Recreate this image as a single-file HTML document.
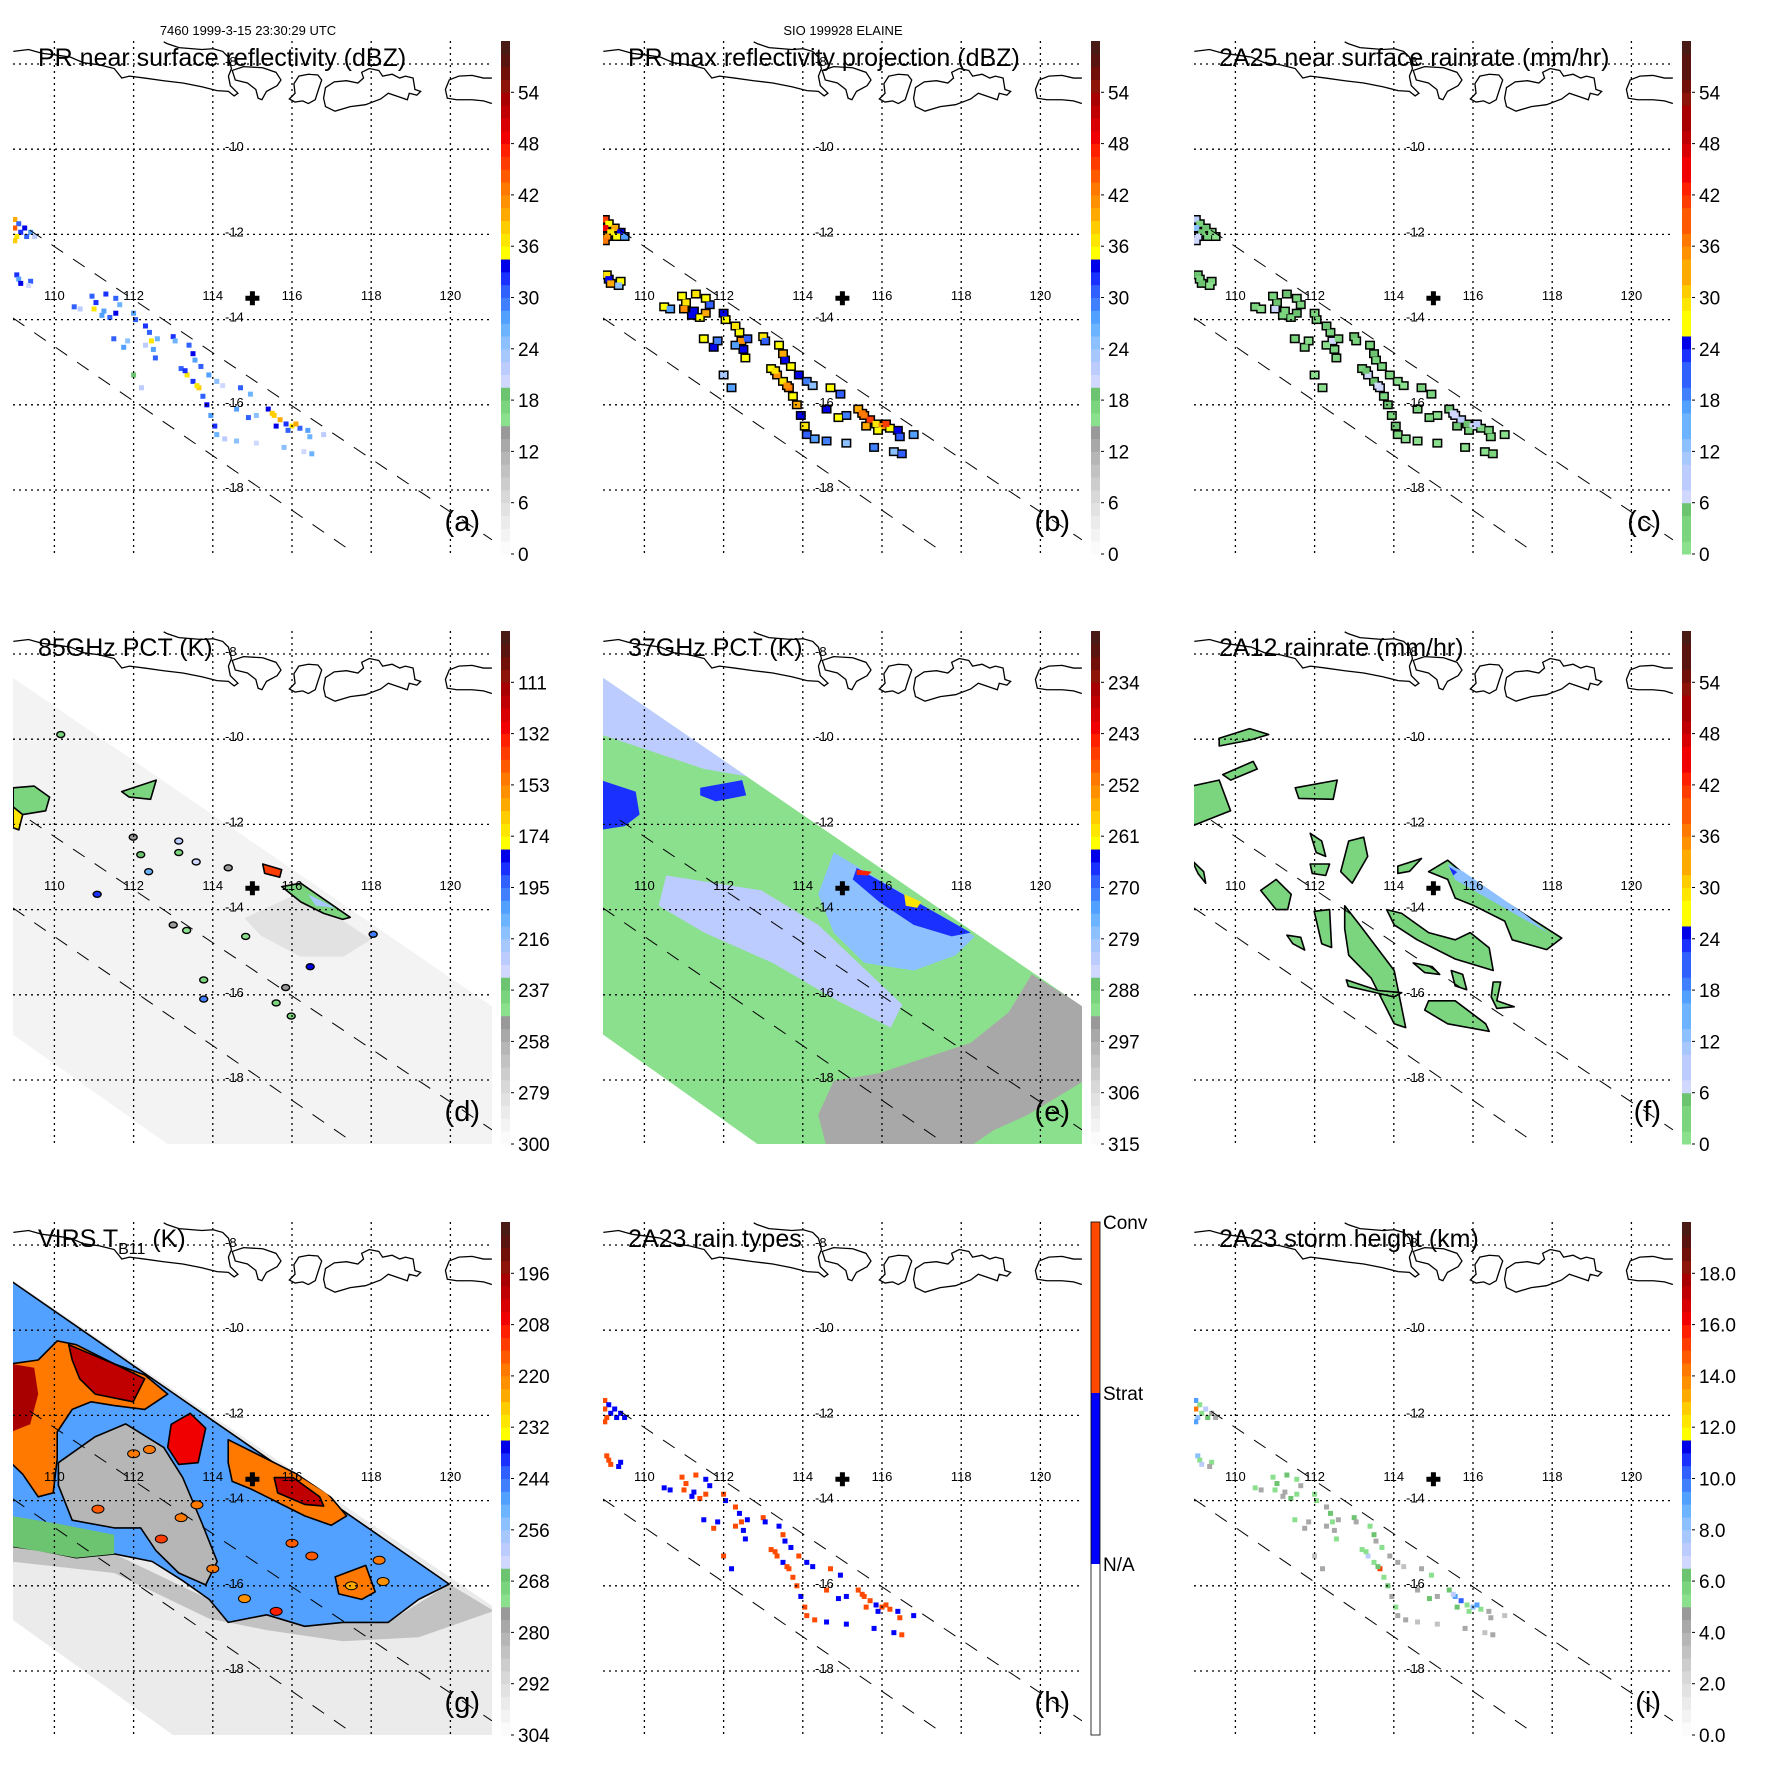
<!DOCTYPE html>
<html><head><meta charset="utf-8"><style>
html,body{margin:0;padding:0;background:#fff}
svg text{font-family:"Liberation Sans",Arial,sans-serif}
</style></head><body>
<svg id="fig" xmlns="http://www.w3.org/2000/svg" width="1771" height="1771" viewBox="0 0 1771 1771">
<rect x="0" y="0" width="1771" height="1771" fill="#fff"/>
<text x="248" y="35" font-size="13" text-anchor="middle">7460 1999-3-15 23:30:29 UTC</text>
<text x="843" y="35" font-size="13" text-anchor="middle">SIO 199928 ELAINE</text>
</svg>
<script>
// ---------- data ----------
const lonTicks=[110,112,114,116,118,120];
const latTicks=[-8,-10,-12,-14,-16,-18];
const centerLon=115.0, centerLat=-13.5;
const cellLon=[109.0,109.1,109.25,109.4,109.0,109.15,109.05,109.3,109.5,109.0,109.05,109.1,109.15,109.4,109.35,110.95,111.05,111.0,111.2,111.4,111.55,111.65,111.55,111.3,110.5,110.65,112.0,112.05,112.3,112.4,112.45,112.5,112.55,112.6,112.3,111.5,111.75,111.85,113.0,113.05,113.4,113.5,113.55,113.2,113.35,113.5,113.65,113.75,113.85,113.95,114.05,114.1,113.7,113.9,114.1,114.25,114.7,114.95,114.6,114.9,115.1,115.4,115.55,115.7,115.85,116.0,116.2,116.4,115.6,115.9,116.45,116.8,115.8,116.3,116.5,114.3,114.6,115.1,112.0,112.2,113.3,113.6,115.5,116.1,111.25];
const cellLat=[-11.65,-11.75,-11.85,-11.95,-11.85,-11.95,-12.05,-12.05,-12.05,-12.15,-12.95,-13.05,-13.15,-13.1,-13.2,-13.45,-13.6,-13.75,-13.9,-13.95,-13.85,-13.65,-13.5,-13.4,-13.7,-13.75,-13.85,-14.0,-14.15,-14.3,-14.5,-14.7,-14.9,-14.45,-14.6,-14.45,-14.65,-14.5,-14.4,-14.5,-14.6,-14.8,-14.95,-15.15,-15.3,-15.45,-15.6,-15.8,-16.0,-16.25,-16.5,-16.7,-15.1,-15.3,-15.45,-15.55,-15.6,-15.75,-16.1,-16.3,-16.25,-16.1,-16.25,-16.35,-16.45,-16.5,-16.55,-16.6,-16.5,-16.6,-16.75,-16.7,-17.0,-17.1,-17.15,-16.8,-16.85,-16.9,-15.3,-15.6,-15.2,-15.55,-16.2,-16.45,-13.8];
const dbzNear=[40,30,34,28,44,32,36,30,22,38,32,28,34,30,20,30,32,36,28,30,34,26,30,32,30,22,28,30,32,30,36,28,30,26,22,30,28,24,32,26,30,34,28,30,36,32,38,30,34,28,32,26,30,28,24,20,30,26,28,30,24,34,38,40,32,36,30,28,34,30,26,22,24,20,26,22,24,20,18,22,32,36,38,40,28];
const dbzMax=[45,35,39,33,49,37,41,35,27,43,37,33,39,35,25,35,37,41,33,35,39,31,35,37,35,27,33,35,37,35,41,33,35,31,27,35,33,29,37,31,35,39,33,35,41,37,43,35,39,33,37,31,35,33,29,25,35,31,33,35,29,39,43,45,37,41,35,33,39,35,31,27,29,25,31,27,29,25,23,27,37,41,43,45,33];
const rainPR=[8,3,5,2,12,4,6,3,1,7,4,2,5,3,1,3,4,6,2,3,5,2,3,4,3,1,2,3,4,3,6,2,3,2,1,3,2,1,4,2,3,5,2,3,6,4,7,3,5,2,4,2,3,2,1,1,3,2,2,3,1,5,7,9,4,6,3,2,5,3,2,1,1,1,2,1,1,1,1,1,4,6,7,9,2];
const rainType=[2,1,1,1,2,1,2,1,1,2,2,2,2,1,1,2,2,2,1,2,2,1,1,2,1,1,2,1,2,1,2,1,1,1,2,1,2,1,2,1,1,2,1,2,2,1,2,2,2,1,2,2,1,2,1,1,2,1,2,1,1,2,2,2,1,2,2,1,2,1,2,1,1,1,2,2,1,1,2,1,2,2,2,2,1];
const stormHt=[9,5,7,4,14,5,8,6,4,9,8,5,7,5,4,5,6,5,4,6,5,4,5,6,5,4,5,5,4,6,5,4,5,4,4,5,4,4,6,4,5,6,4,5,7,5,15,5,6,4,5,4,5,4,4,3,4,5,4,6,4,6,9,10,5,8,5,4,6,5,4,3,4,3,4,4,3,3,3,4,5,6,7,9,4];
// 85 GHz
const pct85Polys=[
 [[116.2,-13.6],[118.0,-14.7],[117.3,-15.1],[116.2,-15.1],[115.2,-14.6],[114.8,-14.2]],
 [[108.96,-11.14],[109.49,-11.1],[109.88,-11.36],[109.78,-11.68],[109.2,-11.77],[108.96,-11.86]],
 [[111.7,-11.23],[112.57,-10.96],[112.43,-11.41],[111.89,-11.36]],
 [[115.74,-13.46],[116.22,-13.38],[117.47,-14.18],[117.28,-14.23],[116.8,-14.09],[116.22,-13.82]],
 [[116.41,-13.64],[117.09,-13.96],[116.6,-13.91]],
 [[115.26,-12.93],[115.74,-13.06],[115.69,-13.24],[115.31,-13.15]],
 [[108.96,-11.59],[109.2,-11.77],[109.1,-12.13],[108.96,-12.08]]];
const pct85Vals=[282,240,240,240,220,140,170];
const pct85Outline=[0,1,1,1,0,1,1];
const dot85Lon=[113.58,113.14,113.14,111.08,113.0,113.77,113.77,114.83,116.46,115.98,118.05,110.16,111.99,112.18,112.38,113.34,114.39,115.6,115.84];
const dot85Lat=[-12.88,-12.39,-12.66,-13.64,-14.36,-15.65,-16.1,-14.63,-15.34,-16.5,-14.58,-9.89,-12.3,-12.71,-13.11,-14.49,-13.02,-16.19,-15.83];
const dot85Val=[230,225,240,185,250,240,200,245,180,240,200,240,250,235,210,245,250,240,250];
// 37 GHz
const pct37Polys=[
 [[119.78,-15.52],[121.1,-16.28],[121.1,-18.02],[119.68,-18.82],[118.82,-19.18],[118.24,-19.55],[114.59,-19.55],[114.39,-18.82],[114.78,-18.02],[115.93,-17.84],[117.09,-17.48],[118.24,-17.13],[119.2,-16.41]],
 [[108.9,-8.5],[112.66,-10.88],[111.51,-10.7],[110.07,-10.25],[108.9,-9.89]],
 [[110.55,-13.2],[112.95,-13.55],[114.39,-14.36],[116.51,-16.23],[116.22,-16.77],[114.88,-16.14],[113.24,-15.25],[111.51,-14.54],[110.36,-13.91]],
 [[114.78,-12.66],[118.34,-14.63],[117.86,-15.07],[116.8,-15.43],[115.55,-15.25],[114.78,-14.54],[114.39,-13.64]],
 [[108.9,-10.96],[109.78,-11.23],[109.88,-11.77],[109.5,-12.04],[108.9,-12.13]],
 [[111.41,-11.14],[112.47,-10.96],[112.57,-11.32],[111.8,-11.46],[111.41,-11.32]],
 [[115.36,-13.02],[118.24,-14.54],[117.76,-14.63],[116.8,-14.36],[115.93,-13.82],[115.26,-13.29]],
 [[116.56,-13.64],[116.99,-13.82],[116.89,-13.96],[116.6,-13.91]],
 [[115.36,-13.06],[115.74,-13.11],[115.64,-13.2],[115.36,-13.18]]];
const pct37Vals=[296,283,282,278,266,266,266,260,245];
// VIRS
const tbPolys=[
 [[108.9,-15.07],[111.51,-15.25],[113.91,-16.32],[115.36,-16.68],[118.43,-16.86],[119.97,-15.96],[121.1,-16.59],[119.2,-17.21],[117.28,-17.3],[115.36,-17.04],[113.91,-16.77],[111.51,-15.7],[108.9,-15.43]],
 [[108.9,-8.84],[119.97,-15.96],[119.2,-16.32],[118.43,-16.86],[117.28,-16.86],[116.32,-16.95],[115.36,-16.68],[114.39,-16.86],[113.91,-16.32],[113.24,-15.88],[112.47,-15.43],[111.51,-15.25],[110.55,-15.34],[109.59,-15.16],[108.9,-15.07]],
 [[108.9,-14.36],[110.07,-14.54],[111.51,-14.8],[111.51,-15.25],[110.55,-15.34],[108.9,-15.07]],
 [[110.1,-13.11],[111.03,-12.5],[111.8,-12.2],[112.76,-12.75],[113.24,-13.46],[113.73,-14.54],[114.11,-15.43],[113.82,-15.98],[113.14,-15.7],[112.56,-15.17],[112.18,-14.64],[111.51,-14.64],[110.45,-14.46],[110.1,-13.64]],
 [[108.9,-10.79],[109.59,-10.7],[110.07,-10.25],[110.55,-10.34],[111.51,-10.79],[112.28,-11.05],[112.86,-11.5],[112.28,-11.86],[111.51,-11.77],[110.93,-11.68],[110.45,-11.86],[110.07,-12.39],[110.07,-13.02],[109.97,-13.82],[109.59,-13.91],[109.2,-13.38],[108.9,-13.11]],
 [[110.36,-10.34],[111.51,-10.79],[112.28,-11.14],[111.99,-11.68],[111.03,-11.5],[110.64,-11.14],[110.45,-10.7]],
 [[108.9,-10.79],[109.49,-10.88],[109.59,-11.5],[109.39,-12.21],[108.9,-12.39]],
 [[114.39,-12.57],[115.36,-13.02],[116.13,-13.38],[116.89,-13.82],[117.38,-14.36],[116.99,-14.58],[116.32,-14.36],[115.74,-14.09],[115.36,-13.91],[114.97,-13.73],[114.49,-13.55],[114.39,-13.11]],
 [[115.55,-13.46],[116.03,-13.46],[116.7,-13.91],[116.8,-14.13],[116.32,-14.09],[115.64,-13.82]],
 [[112.95,-12.21],[113.43,-11.95],[113.82,-12.3],[113.63,-13.11],[113.14,-13.15],[112.86,-12.75]],
 [[117.09,-15.79],[117.86,-15.52],[118.1,-16.14],[117.76,-16.32],[117.18,-16.19]]];
const tbVals=[284,248,268,282,218,200,198,218,202,206,218];
const tbDotLon=[112.4,111.1,114.0,116.5,118.3,118.2,112.7,113.2,114.8,115.6,117.5,112.0,113.6,116.0];
const tbDotLat=[-12.8,-14.2,-15.6,-15.3,-15.9,-15.4,-14.9,-14.4,-16.3,-16.6,-16.0,-12.9,-14.1,-15.0];
const tbDotVal=[218,215,220,216,222,220,214,218,222,210,224,220,218,216];
// 2A12
const rain12Polys=[
 [[109.59,-9.98],[110.36,-9.75],[110.84,-9.89],[110.36,-10.02],[109.59,-10.16]],
 [[109.68,-10.83],[110.45,-10.52],[110.55,-10.7],[109.88,-10.96]],
 [[108.9,-11.1],[109.59,-10.96],[109.88,-11.68],[109.39,-11.86],[108.9,-12.04]],
 [[111.51,-11.14],[112.57,-10.96],[112.47,-11.41],[111.6,-11.39]],
 [[114.88,-13.11],[115.36,-12.84],[115.93,-13.29],[118.24,-14.67],[117.86,-14.94],[116.99,-14.71],[116.8,-14.27],[116.03,-13.91],[115.55,-13.73],[115.36,-13.29]],
 [[113.82,-14.0],[114.2,-14.09],[114.88,-14.54],[115.55,-14.71],[115.93,-14.54],[116.41,-14.9],[116.51,-15.43],[115.55,-15.16],[114.59,-14.71],[114.01,-14.36]],
 [[112.76,-13.91],[113.14,-14.36],[114.01,-15.43],[114.3,-16.77],[114.01,-16.68],[113.43,-15.61],[112.86,-15.07],[112.76,-14.45]],
 [[114.88,-16.14],[115.55,-16.14],[116.32,-16.68],[116.41,-16.86],[115.36,-16.68],[114.78,-16.36]],
 [[110.64,-13.55],[111.03,-13.29],[111.41,-13.64],[111.32,-14.0],[111.03,-14.0]],
 [[111.99,-14.04],[112.38,-14.0],[112.43,-14.89],[112.18,-14.8]],
 [[112.86,-12.39],[113.24,-12.3],[113.34,-12.75],[112.95,-13.38],[112.66,-13.11]],
 [[112.8,-15.65],[113.6,-15.9],[114.2,-15.95],[114.0,-16.05],[113.3,-15.9],[112.85,-15.8]],
 [[116.51,-15.7],[116.7,-15.7],[116.6,-16.14],[117.04,-16.28],[116.6,-16.32],[116.46,-16.05]],
 [[115.45,-15.43],[115.74,-15.52],[115.84,-15.88],[115.55,-15.79]],
 [[114.49,-15.25],[114.97,-15.34],[115.16,-15.52],[114.78,-15.48]],
 [[111.89,-12.21],[112.18,-12.39],[112.28,-12.75],[112.04,-12.66]],
 [[111.3,-14.6],[111.65,-14.65],[111.75,-14.95],[111.45,-14.8]],
 [[108.9,-12.84],[109.2,-13.11],[109.25,-13.38],[109.06,-13.16]],
 [[111.89,-12.93],[112.38,-12.93],[112.28,-13.2],[111.94,-13.15]],
 [[114.1,-12.98],[114.7,-12.8],[114.4,-13.1],[114.1,-13.15]],
 [[115.36,-12.93],[115.74,-13.1],[117.3,-14.1],[117.9,-14.55],[115.55,-13.3]],
 [[115.4,-13.0],[115.6,-13.12],[115.5,-13.2]]];
const rain12Vals=[3,3,3,3,3,3,3,3,3,3,3,3,3,3,3,3,3,3,3,3,13,23];
const rain12Outline=[1,1,1,1,1,1,1,1,1,1,1,1,1,1,1,1,1,1,1,1,0,0];
// colour table (bottom to top)
const levels=['#fbfbfb','#f3f3f3','#ebebeb','#e2e2e2','#d8d8d8','#cdcdcd','#c2c2c2','#b6b6b6','#a8a8a8','#999999','#8be08d','#7bd47e','#6cc470','#d0d8ff','#bcccff','#a6c8ff','#8cc0ff','#6cb4ff','#52a0ff','#4080ff','#3060ff','#1a30ff','#0000e8','#ffff00','#ffe600','#ffcc00','#ffaa00','#ff9000','#ff7800','#ff5a00','#ff3c00','#ff2000','#f00000','#d80000','#c00000','#a80000','#8c1408','#701008','#5a1410','#4a1a14'];
const labelsDbz=['54','48','42','36','30','24','18','12','6','0'];
const labels85=['111','132','153','174','195','216','237','258','279','300'];
const labels37=['234','243','252','261','270','279','288','297','306','315'];
const labelsTb=['196','208','220','232','244','256','268','280','292','304'];
const labelsHt=['18.0','16.0','14.0','12.0','10.0','8.0','6.0','4.0','2.0','0.0'];

// ---------- helpers ----------
const NS='http://www.w3.org/2000/svg';
const svg=document.getElementById('fig');
function X(lon){return 54.4+(lon-110)*39.6;}
function Y(lat){return 64+(-8-lat)*42.6;}
function mk(tag,parent,attrs){const e=document.createElementNS(NS,tag);for(const k in attrs)e.setAttribute(k,attrs[k]);parent.appendChild(e);return e;}
function col(f,stretch){if(stretch)f=0.25+0.75*f;let i=Math.floor(f*40);if(i<0)i=0;if(i>39)i=39;return levels[i];}
function pts(poly){return poly.map(p=>X(p[0]).toFixed(1)+','+Y(p[1]).toFixed(1)).join(' ');}
const PL=13,PR=492,PT=41,PB=554;
const coastJava='M35,135 L75,130 L110,140 L150,145 L185,150 L220,165 L260,170 L300,180 L320,205 L340,200 L380,205 L430,212 L480,218 L530,228 L570,238 L600,240 L615,252 L625,245 L605,225 L600,200 L608,180 L600,150 L585,135 L560,128 L530,130 L470,125 L440,115 L430,110';
const coastBali='M610,185 L640,175 L690,178 L725,190 L738,210 L728,225 L700,240 L688,262 L678,258 L672,235 L650,218 L618,210 Z';
const coastLombok='M760,260 L775,245 L772,220 L785,200 L810,195 L835,197 L845,210 L835,240 L828,262 L810,272 L795,265 L775,268 Z';
const coastSumbawa='M855,230 L878,215 L910,212 L940,218 L955,205 L950,190 L970,180 L995,185 L1005,200 L1030,195 L1050,205 L1065,200 L1085,205 L1090,235 L1105,240 L1095,250 L1075,245 L1070,262 L1050,255 L1020,245 L1000,260 L960,275 L920,280 L880,292 L855,280 L850,258 Z';
const coastFlores='M1292,205 L1270,205 L1240,198 L1205,200 L1180,210 L1170,235 L1175,258 L1200,262 L1240,262 L1270,265 L1292,272';

const panels=[
 {id:'a',ox:0,oy:0,title:'PR near surface reflectivity (dBZ)',labels:labelsDbz,cb:'std'},
 {id:'b',ox:590,oy:0,title:'PR max reflectivity projection (dBZ)',labels:labelsDbz,cb:'std'},
 {id:'c',ox:1181,oy:0,title:'2A25 near surface rainrate (mm/hr)',labels:labelsDbz,cb:'str'},
 {id:'d',ox:0,oy:590,title:'85GHz PCT (K)',labels:labels85,cb:'std'},
 {id:'e',ox:590,oy:590,title:'37GHz PCT (K)',labels:labels37,cb:'std'},
 {id:'f',ox:1181,oy:590,title:'2A12 rainrate (mm/hr)',labels:labelsDbz,cb:'str'},
 {id:'g',ox:0,oy:1181,title:'VIRS',labels:labelsTb,cb:'std'},
 {id:'h',ox:590,oy:1181,title:'2A23 rain types',labels:null,cb:'type'},
 {id:'i',ox:1181,oy:1181,title:'2A23 storm height (km)',labels:labelsHt,cb:'std'}];

const defs=mk('defs',svg,{});
const cp=mk('clipPath',defs,{id:'plotclip'});
mk('rect',cp,{x:PL,y:PT,width:PR-PL,height:PB-PT});
const swathA=[[108.9,-8.52],[121.1,-16.3],[121.1,-19.6],[113.0,-19.6],[108.9,-16.9]];
const swathG=[[108.9,-8.8],[121.1,-16.5],[121.1,-19.6],[113.14,-19.6],[108.9,-16.77]];
const cpA=mk('clipPath',defs,{id:'swathA'});mk('polygon',cpA,{points:pts(swathA)});
const cpG=mk('clipPath',defs,{id:'swathG'});mk('polygon',cpG,{points:pts(swathG)});

function drawCells(g,vals,fn,outline){
  if(outline){for(let k=0;k<cellLon.length;k++){const r=mk('rect',g,{x:X(cellLon[k])-5,y:Y(cellLat[k])-4.5,width:10,height:9,fill:'#000'});
    
    }}
  const w=outline?7:5,h=outline?6:5;
  for(let k=0;k<cellLon.length;k++){const r=mk('rect',g,{x:X(cellLon[k])-w/2,y:Y(cellLat[k])-h/2,width:w,height:h,fill:fn(vals[k])});
    
    }
}
function drawPolys(g,polys,vals,fn,outl){
  for(let k=0;k<polys.length;k++){const p=mk('polygon',g,{points:pts(polys[k]),fill:fn(vals[k]),stroke:(outl&&outl[k])?'#000':'none','stroke-width':1.6,'stroke-linejoin':'round'});
    
    }
}

panels.forEach(P=>{
  const g=mk('g',svg,{transform:'translate('+P.ox+','+P.oy+')'});
  
  
  const dg=mk('g',g,{'clip-path':'url(#plotclip)'});
  
  
  if(P.id==='a'){drawCells(dg,dbzNear,v=>col(v/60),false);}
  if(P.id==='b'){drawCells(dg,dbzMax,v=>col(v/60),true);}
  if(P.id==='c'){drawCells(dg,rainPR,v=>col(v/60,true),true);}
  if(P.id==='h'){drawCells(dg,rainType,v=>v===2?'#ff4a00':'#0000ff',false);}
  if(P.id==='i'){drawCells(dg,stormHt,v=>col(v/20),false);}
  if(P.id==='d'||P.id==='e'){
    const sg=mk('g',dg,{'clip-path':'url(#swathA)'});
    
    
    const base=P.id==='d'?292:291;
    const fn=P.id==='d'?(v=>col((300-v)/210)):(v=>col((315-v)/90));
    const b=mk('polygon',sg,{points:pts(swathA),fill:fn(base)});
    
    
    if(P.id==='d'){drawPolys(sg,pct85Polys,pct85Vals,fn,pct85Outline);
      for(let k=0;k<dot85Lon.length;k++){const c=mk('ellipse',sg,{cx:X(dot85Lon[k]),cy:Y(dot85Lat[k]),rx:4,ry:3,fill:fn(dot85Val[k]),stroke:'#000','stroke-width':1.4});
        
        }}
    else drawPolys(sg,pct37Polys,pct37Vals,fn,null);
  }
  if(P.id==='g'){
    const sg=mk('g',dg,{'clip-path':'url(#swathG)'});
    
    
    const fn=v=>col((304-v)/120);
    const b=mk('polygon',sg,{points:pts(swathG),fill:fn(296)});
    
    
    drawPolys(sg,tbPolys,tbVals,fn,[0,1,0,1,1,1,0,1,1,1,1]);
    for(let k=0;k<tbDotLon.length;k++){const c=mk('ellipse',sg,{cx:X(tbDotLon[k]),cy:Y(tbDotLat[k]),rx:6,ry:4,fill:fn(tbDotVal[k]),stroke:'#000','stroke-width':1});
      
      }
  }
  if(P.id==='f'){drawPolys(dg,rain12Polys,rain12Vals,v=>col(v/60,true),rain12Outline);}
  // grid
  const gg=mk('g',g,{stroke:'#000','stroke-width':1.3,'stroke-dasharray':'2,4'});
  
  
  lonTicks.forEach(l=>{const ln=mk('line',gg,{x1:X(l),x2:X(l),y1:PT,y2:PB});
    
    });
  latTicks.forEach(l=>{const ln=mk('line',gg,{x1:PL,x2:PR,y1:Y(l),y2:Y(l)});
    
    });
  // swath edge lines
  const sw=mk('g',g,{stroke:'#000','stroke-width':1,'stroke-dasharray':'14,12','clip-path':'url(#plotclip)'});
  
  
  const l1=mk('line',sw,{x1:X(109.38),y1:Y(-11.9),x2:X(121.05),y2:Y(-19.17)});
  
  
  const l2=mk('line',sw,{x1:X(108.95),y1:Y(-13.96),x2:X(117.6),y2:Y(-19.5)});
  
  
  // coast
  const cg=mk('g',g,{transform:'scale(0.3807)',fill:'none',stroke:'#000'});
  
  
  [coastJava,coastBali,coastLombok,coastSumbawa,coastFlores].forEach(d=>{const p=mk('path',cg,{d:d,'stroke-width':1.3,'vector-effect':'non-scaling-stroke'});
    
    });
  // tick labels
  lonTicks.forEach(l=>{const t=mk('text',g,{x:X(l),y:300,'font-size':13,'text-anchor':'middle'});t.textContent=String(l);
    
    });
  latTicks.forEach(l=>{const t=mk('text',g,{x:225,y:Y(l)+2,'font-size':13});t.textContent=String(l);
    
    });
  // storm centre
  const cr=mk('path',g,{d:'M'+(X(centerLon)-7)+','+(Y(centerLat)-2.5)+'h14v5h-14z M'+(X(centerLon)-2.5)+','+(Y(centerLat)-7)+'h5v14h-5z',fill:'#000'});
  
  
  // title
  const tt=mk('text',g,{x:38,y:66,'font-size':25});
  
  
  if(P.id==='g'){tt.innerHTML='<tspan>VIRS T</tspan><tspan font-size="16" dy="7">B11</tspan><tspan dy="-7"> (K)</tspan>';}
  else tt.textContent=P.title;
  const pl=mk('text',g,{x:480,y:531,'font-size':29,'text-anchor':'end'});pl.textContent='('+P.id+')';
  
  
  // colour bar
  const cb=mk('g',g,{});
  
  
  const H=(PB-PT);
  if(P.cb==='type'){
    const r1=mk('rect',cb,{x:501,y:PT,width:9,height:H/3,fill:'#ff4a00'});
    
    
    const r2=mk('rect',cb,{x:501,y:PT+H/3,width:9,height:H/3,fill:'#0000ff'});
    
    
    const r3=mk('rect',cb,{x:501,y:PT,width:9,height:H,fill:'none',stroke:'#000','stroke-width':0.8});
    
    
    [['Conv',PT],['Strat',PT+H/3],['N/A',PT+2*H/3]].forEach(a=>{const t=mk('text',cb,{x:513,y:a[1]+7,'font-size':19});t.textContent=a[0];
      
      });
  } else {
    for(let k=0;k<40;k++){const f=(k+0.5)/40;const r=mk('rect',cb,{x:501,y:PB-(k+1)*H/40,width:9,height:H/40+0.5,fill:col(f,P.cb==='str')});
      
      }
    P.labels.forEach((lab,k)=>{const v=54-6*k;const y=PB-v/60*H;
      const tk=mk('line',cb,{x1:511,x2:514,y1:y,y2:y,stroke:'#000','stroke-width':1});
      
      
      const t=mk('text',cb,{x:518,y:y+7,'font-size':19});t.textContent=lab;
      
      });
  }
});
</script>
</body></html>
